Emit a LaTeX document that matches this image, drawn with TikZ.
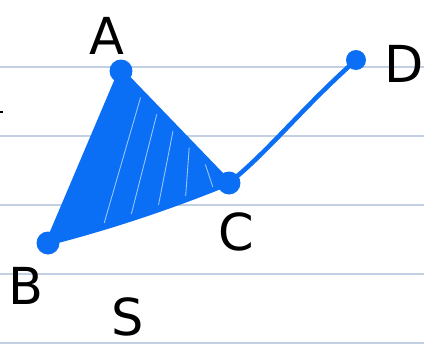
\documentclass[tikz,border=0pt]{standalone}
\usepackage{fontspec}
\setsansfont{DejaVu Sans}
\usetikzlibrary{positioning,calc}
\definecolor{inkblue}{HTML}{0A6FF5}
\definecolor{ruleline}{HTML}{C3CFE2}
\tikzset{
  >=stealth,
}
\begin{document}
\begin{tikzpicture}[x=0.02cm, y=-0.02cm,
  vert/.style={circle, fill=inkblue, inner sep=0pt, minimum size=0.46cm},
  lbl/.style={font=\sffamily\fontsize{29}{29}\selectfont, text=black, inner sep=0pt},
  edge/.style={inkblue, line width=2.6pt, line cap=round, line join=round}
]
  \useasboundingbox (0,0) rectangle (424,349);
  \fill[white] (0,0) rectangle (424,349);
  \foreach \y in {67,136,205,274,343}
    \draw[ruleline, line width=0.7pt] (0,\y) -- (424,\y);
  \draw[black, line width=0.6pt] (0,112) -- (3,112);

  \node[vert] (a) at (121,71) {};
  \node[vert] (b) at (48,243) {};
  \node[vert] (c) at (229,183) {};
  \node[vert, minimum size=0.4cm] (d) at (356,60) {};

  % shaded face
  \fill[inkblue] (a.center) -- (b.center) .. controls (90,232) and (150,215) .. (c.center) -- cycle;
  \draw[edge, line width=3pt] (a.center) -- (b.center) .. controls (90,232) and (150,215) .. (c.center) -- (a.center);
  \foreach \s in {0.2,0.35,0.5,0.65,0.8}
    \draw[white, line width=0.5pt, opacity=0.6] ($(a.center)!\s!(c.center)+(-2,4)$) -- ($(b.center)!\s!(c.center)+(20,-8)$);
  \draw[edge] (c.center) .. controls (270,150) and (300,110) .. (d.center);

  \node[lbl] (la) at (107,36) {A};
  \node[lbl] (lb) at (26,286) {B};
  \node[lbl] (lc) at (236,232) {C};
  \node[lbl] (ld) at (404,64) {D};
  \node[lbl] (ls) at (128,317) {S};
\end{tikzpicture}
\end{document}
